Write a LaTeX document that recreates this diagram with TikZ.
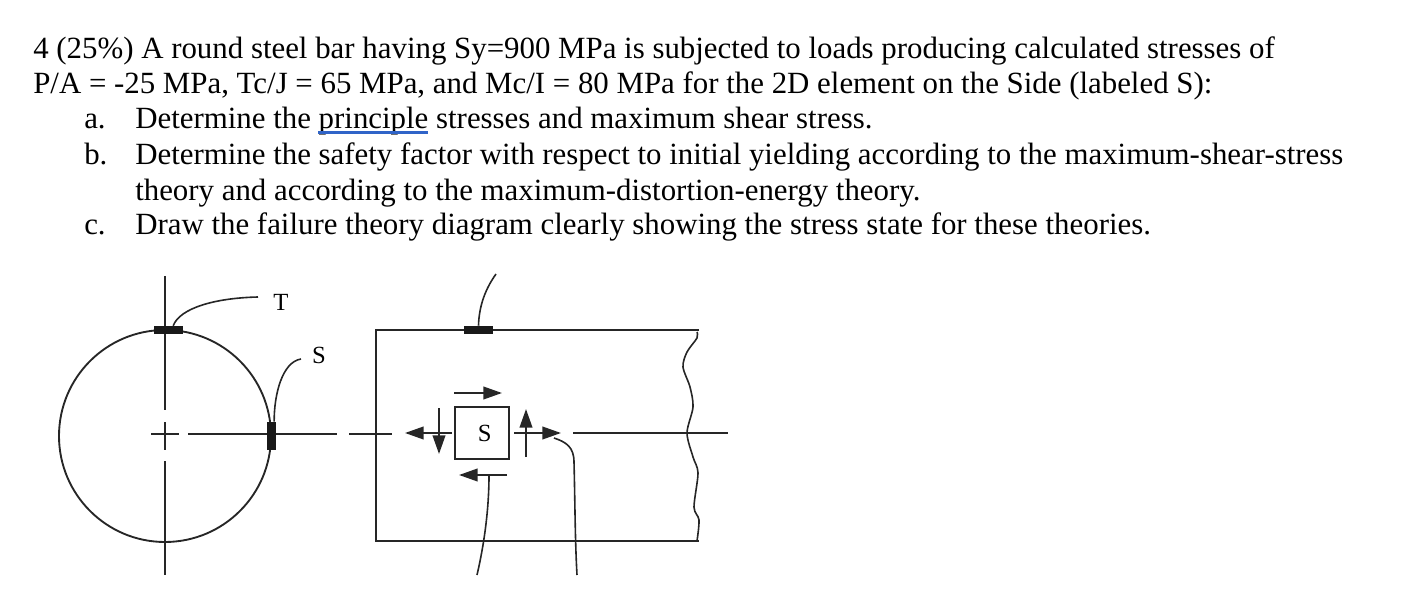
\documentclass[tikz,border=0pt]{standalone}
\usepackage{fontspec}
\setmainfont{Liberation Serif}
\usetikzlibrary{arrows.meta}
\usetikzlibrary{calc}
\definecolor{spellblue}{RGB}{48,100,200}

\begin{document}
\begin{tikzpicture}
  [x = 0.75pt, y = -0.75pt,
   qline/.style = {anchor = base west, inner sep = 0pt, font = \fontsize{23.15}{26}\selectfont},
   lbl/.style = {inner sep = 0pt, font = \fontsize{18.5}{20}\selectfont},
   ink/.style = {draw = black!85, line width = 1.4pt},
   thin ink/.style = {draw = black!85, line width = 1.2pt},
   gauge/.style = {fill = black!90, inner sep = 0pt},
   stress/.style = {ink, -{Triangle[length = 14pt, width = 9.5pt]}}]
  \useasboundingbox (0, 0) rectangle (1416, 616);

  \node [qline] (l1) at (33, 59) {4 (25\%) A round steel bar having Sy=900 MPa is subjected to loads producing calculated stresses of};
  \node [qline] (l2) at (33, 93.5) {P/A = -25 MPa, Tc/J = 65 MPa, and Mc/I = 80 MPa for the 2D element on the Side (labeled S):};
  \node [qline] (la) at (84, 129) {a.};
  \node [qline] (ta) at (135, 129) {Determine the principle stresses and maximum shear stress.};
  \node [qline] (lb) at (84, 165) {b.};
  \node [qline] (tb) at (135, 165) {Determine the safety factor with respect to initial yielding according to the maximum-shear-stress};
  \node [qline] (tb2) at (135, 201) {theory and according to the maximum-distortion-energy theory.};
  \node [qline] (lc) at (84, 235) {c.};
  \node [qline] (tc) at (135, 235) {Draw the failure theory diagram clearly showing the stress state for these theories.};
  \draw [spellblue, line width = 2pt] (318, 132.5) -- (428, 132.5);

  \node [circle, ink, inner sep = 0pt, minimum size = 159pt] (bar) at (165, 436) {};
  \draw [ink] (165, 276) -- (165, 410);
  \draw [ink] (165, 422) -- (165, 450);
  \draw [ink] (165, 461) -- (165, 575);
  \draw [ink] (151, 434) -- (179, 434);
  \draw [ink] (188, 434) -- (337, 434);
  \draw [ink] (349, 434) -- (392, 434);
  \draw [ink] (573, 433) -- (728, 433);

  \draw [ink] (699, 330) -- (376, 330) -- (376, 541) -- (699, 541);
  \draw [thin ink] plot [smooth] coordinates {(697, 332) (697, 338) (687, 352) (683, 367) (690, 387) (693, 407) (687, 433) (693, 457) (698, 473) (694, 507) (699, 520) (697, 541)};

  \node [gauge, minimum width = 21.75pt, minimum height = 6pt] (tgauge) at (168.5, 330) {};
  \node [gauge, minimum width = 6.75pt, minimum height = 21pt] (sgauge) at (271.5, 436) {};
  \node [gauge, minimum width = 21.75pt, minimum height = 6pt] (rgauge) at (478.5, 330) {};

  \node [lbl] (tlabel) at (281, 302) {T};
  \node [lbl] (slabel) at (319, 355) {S};
  \coordinate (tend) at (258, 297);
  \coordinate (send) at (301, 359);
  \coordinate (rend) at (496, 274);
  \draw [thin ink] ([xshift = 3.5pt]tgauge.north) .. controls (180, 308) and (215, 298) .. (tend);
  \draw [thin ink] ([xshift = 2pt]sgauge.north) .. controls (274, 395) and (282, 362) .. (send);
  \draw [thin ink] (rgauge.north) .. controls (479, 305) and (486, 288) .. (rend);

  \node [draw = black!85, line width = 1.3pt, inner sep = 0pt, minimum width = 40.5pt, minimum height = 39pt, font = \fontsize{18.5}{20}\selectfont] (elem) at (482, 433) {\hspace{4pt}S};

  \coordinate (topa) at (454, 393);
  \coordinate (topb) at (502, 393);
  \coordinate (bota) at (507, 475);
  \coordinate (botb) at (459, 475);
  \coordinate (lefta) at (439, 408);
  \coordinate (leftb) at (439, 454);
  \coordinate (righta) at (526, 457);
  \coordinate (rightb) at (526, 409);
  \coordinate (westa) at (452, 433);
  \coordinate (westb) at (405, 433);
  \coordinate (easta) at (514, 433);
  \coordinate (eastb) at (561, 433);
  \draw [stress] (topa) -- (topb);
  \draw [stress] (bota) -- (botb);
  \draw [stress] (lefta) -- (leftb);
  \draw [stress] (righta) -- (rightb);
  \draw [stress] (westa) -- (westb);
  \draw [stress] (easta) -- (eastb);

  \coordinate (shear) at (489, 475);
  \coordinate (shearend) at (477, 575);
  \coordinate (normal) at (554, 438);
  \coordinate (normalend) at (577, 575);
  \draw [thin ink] (shear) .. controls (489, 510) and (484, 545) .. (shearend);
  \draw [thin ink] (normal) .. controls (566, 442) and (574, 447) .. (574, 462) .. controls (575, 500) and (575, 540) .. (normalend);
\end{tikzpicture}
\end{document}
